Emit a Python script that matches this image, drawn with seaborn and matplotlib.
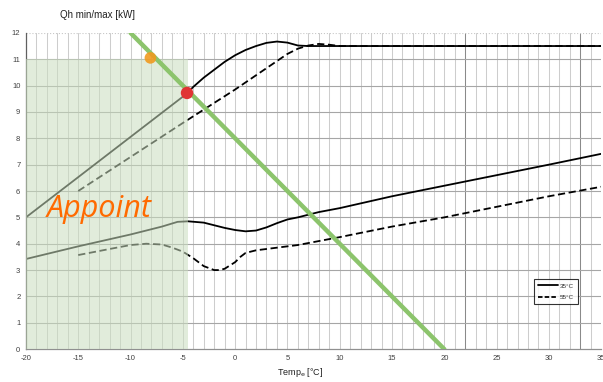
import matplotlib
matplotlib.use("Agg")
import matplotlib.pyplot as plt
import seaborn as sns
from matplotlib.lines import Line2D
from matplotlib.patches import Rectangle

# Qh max, flow 35 C (solid)
MAX35_TEMP = [-20, -4.6, -4, -3, -2, -1, 0, 1, 2, 3, 4, 5, 6, 7, 35]
MAX35_QH = [5.0, 9.7, 9.95, 10.3, 10.6, 10.9, 11.15, 11.35, 11.5, 11.62, 11.67, 11.63, 11.52, 11.5, 11.5]

# Qh max, flow 55 C (dashed)
MAX55_TEMP = [-15, -5, 0, 5, 6, 7, 8, 9, 10, 35]
MAX55_QH = [6.0, 8.58, 9.85, 11.2, 11.4, 11.52, 11.58, 11.55, 11.5, 11.5]

# Qh min, flow 35 C (solid)
MIN35_TEMP = [-20, -15, -10, -7, -5.5, -4.5, -3, -2, -1, 0, 1, 2, 3, 4, 5, 6, 8, 10, 15, 20, 25, 30, 35]
MIN35_QH = [3.42, 3.9, 4.35, 4.65, 4.83, 4.85, 4.8, 4.7, 4.6, 4.52, 4.47, 4.5, 4.62, 4.78, 4.92, 5.0, 5.2,
            5.35, 5.8, 6.2, 6.6, 7.0, 7.41]

# Qh min, flow 55 C (dashed)
MIN55_TEMP = [-15, -12, -10, -8.5, -7, -6, -5, -4, -3, -2, -1.5, -1, 0, 0.5, 1, 2, 4, 6, 10, 15, 20, 25, 30, 35]
MIN55_QH = [3.57, 3.8, 3.95, 4.0, 3.97, 3.85, 3.7, 3.45, 3.15, 3.0, 3.0, 3.05, 3.3, 3.5, 3.65, 3.75, 3.85,
            3.95, 4.25, 4.65, 5.0, 5.4, 5.8, 6.16]

# heat demand line of the building
DEMAND_TEMP = [-10, 20]
DEMAND_QH = [12, 0]

# marked points
ORANGE_PT = ([-8.1], [11.05])
RED_PT = ([-4.6], [9.72])

# shaded "Appoint" zone
ZONE_TEMP = [-20, -4.5]
ZONE_QH = 11

LEGEND_LABELS = ["35°C", "55°C"]

sns.set_style("white")
plt.rcParams["font.family"] = ["Liberation Sans", "DejaVu Sans"]
plt.rcParams["axes.unicode_minus"] = False

fig = plt.figure(figsize=(6.03, 3.82), dpi=100)
ax = fig.add_axes([0.043, 0.086, 0.954, 0.828])

# grid
for t in range(-20, 36):
    c = "#8a8a8a" if t in (22, 33) else "#cdcdcd"
    ax.axvline(t, color=c, lw=0.75, zorder=0)
for q in range(1, 12):
    ax.axhline(q, color="#a6a6a6", lw=0.8, zorder=0)
ax.axhline(12, color="#c8c8c8", lw=0.8, ls=":", zorder=0)

sns.lineplot(x=MAX35_TEMP, y=MAX35_QH, ax=ax, color="black", lw=1.3, zorder=2)
sns.lineplot(x=MAX55_TEMP, y=MAX55_QH, ax=ax, color="black", lw=1.3, ls=(0, (4, 2)), zorder=2)
sns.lineplot(x=MIN35_TEMP, y=MIN35_QH, ax=ax, color="black", lw=1.3, zorder=2)
sns.lineplot(x=MIN55_TEMP, y=MIN55_QH, ax=ax, color="black", lw=1.3, ls=(0, (4, 2)), zorder=2)

ax.add_patch(Rectangle((ZONE_TEMP[0], 0), ZONE_TEMP[1] - ZONE_TEMP[0], ZONE_QH,
                       facecolor="#cadebf", alpha=0.55, edgecolor="none", zorder=3))

sns.lineplot(x=DEMAND_TEMP, y=DEMAND_QH, ax=ax, color="#8cc46c", lw=3.2, zorder=4)
sns.scatterplot(x=ORANGE_PT[0], y=ORANGE_PT[1], ax=ax, s=70, color="#f09a20", alpha=0.9,
                edgecolor="none", zorder=4.5)
sns.scatterplot(x=RED_PT[0], y=RED_PT[1], ax=ax, s=80, color="#e03434", edgecolor="none", zorder=5)

ax.text(-13, 5.3, "Appoint", color="#ff6a00", fontsize=22, style="italic",
        family=["Open Sans", "DejaVu Sans"], ha="center", va="center", zorder=6)

# legend
handles = [Line2D([], [], color="black", lw=1.3),
           Line2D([], [], color="black", lw=1.3, ls=(0, (2.5, 1.2)))]
leg = ax.legend(handles, LEGEND_LABELS, loc="lower left", bbox_to_anchor=(0.884, 0.143),
                fontsize=4.5, frameon=True, fancybox=False, handlelength=3.2, handletextpad=0.3,
                borderpad=0.6, labelspacing=1.0, borderaxespad=0)
leg.get_frame().set_edgecolor("black")
leg.get_frame().set_linewidth(0.8)

ax.set_xlim(-20, 35)
ax.set_ylim(0, 12)
ax.set_xticks(range(-20, 36, 5))
ax.set_yticks(range(0, 13))
ax.tick_params(labelsize=5.5, colors="#404040", length=0, pad=4)
for s in ["top", "right"]:
    ax.spines[s].set_visible(False)
ax.spines["left"].set_color("#606060")
ax.spines["bottom"].set_color("#909090")
ax.spines["left"].set_linewidth(0.9)
ax.spines["bottom"].set_linewidth(0.9)
ax.set_xlabel("")
ax.set_ylabel("")

fig.text(0.162, 0.96, "Qh min/max [kW]", fontsize=7, ha="center", va="center", color="#202020")
fig.text(0.497, 0.026, r"Temp$_\mathrm{e}$ [°C]", fontsize=6.5, ha="center", va="center", color="#202020")

fig.savefig("out.png", dpi=100)
